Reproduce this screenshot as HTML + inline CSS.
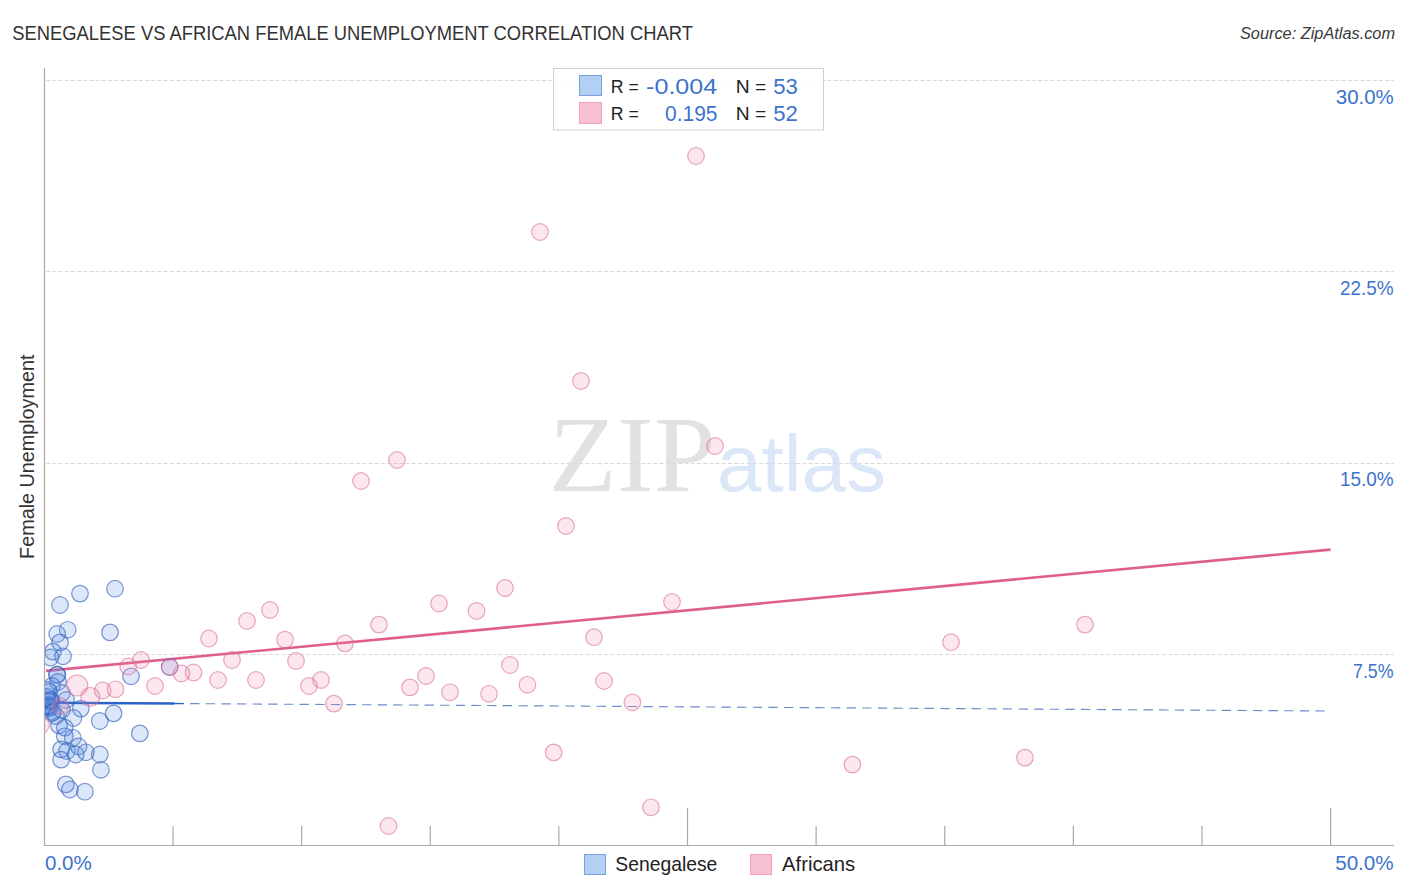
<!DOCTYPE html>
<html><head><meta charset="utf-8">
<style>
html,body{margin:0;padding:0;background:#fff;}
body{width:1406px;height:892px;overflow:hidden;position:relative;font-family:"Liberation Sans",sans-serif;}
svg{position:absolute;left:0;top:0;}
.grid{stroke:#d9d9d9;stroke-width:1;stroke-dasharray:4 2.2;}
.axis{stroke:#a9a9a9;stroke-width:1.2;}
.b{fill:rgba(80,140,230,0.2);stroke:rgba(55,95,185,0.65);stroke-width:1.2;}
.p{fill:rgba(240,135,175,0.2);stroke:rgba(215,110,150,0.6);stroke-width:1.2;}
text{font-family:"Liberation Sans",sans-serif;}
</style></head>
<body>
<svg width="1406" height="892" viewBox="0 0 1406 892">
<defs><clipPath id="plot"><rect x="45" y="68" width="1360" height="777"/></clipPath></defs>
<text transform="translate(12.28,40) scale(0.9192,1)" font-size="20" font-style="normal" fill="#333333">SENEGALESE VS AFRICAN FEMALE UNEMPLOYMENT CORRELATION CHART</text>

<text transform="translate(1239.98,39) scale(1.02,1)" font-size="16" font-style="italic" fill="#383838">Source: ZipAtlas.com</text>

<text transform="translate(548.85,491) scale(1.03,1)" style="font-family:'Liberation Serif',serif" font-size="108" fill="#e2e2e2">ZIP</text>
<text x="717" y="491" font-size="80" fill="#dbe7f8">atlas</text>
<line x1="46" y1="80.5" x2="1394" y2="80.5" class="grid"/>
<line x1="46" y1="271.5" x2="1394" y2="271.5" class="grid"/>
<line x1="46" y1="463.5" x2="1394" y2="463.5" class="grid"/>
<line x1="46" y1="654.5" x2="1394" y2="654.5" class="grid"/>

<line x1="44.5" y1="68" x2="44.5" y2="846" class="axis"/>
<line x1="44" y1="845.5" x2="1394" y2="845.5" class="axis"/>
<line x1="173.02" y1="826" x2="173.02" y2="845" class="axis"/>
<line x1="301.64" y1="826" x2="301.64" y2="845" class="axis"/>
<line x1="430.26" y1="826" x2="430.26" y2="845" class="axis"/>
<line x1="558.88" y1="826" x2="558.88" y2="845" class="axis"/>
<line x1="687.5" y1="808" x2="687.5" y2="845" class="axis"/>
<line x1="816.12" y1="826" x2="816.12" y2="845" class="axis"/>
<line x1="944.74" y1="826" x2="944.74" y2="845" class="axis"/>
<line x1="1073.36" y1="826" x2="1073.36" y2="845" class="axis"/>
<line x1="1201.98" y1="826" x2="1201.98" y2="845" class="axis"/>
<line x1="1330.6" y1="808" x2="1330.6" y2="845" class="axis"/>

<line x1="46" y1="670.9" x2="1330.5" y2="549.6" stroke="#df5f8b" stroke-width="2.6"/>
<line x1="46" y1="702.7" x2="174" y2="703.5" stroke="#2a63c9" stroke-width="2.4"/>
<line x1="174" y1="703.5" x2="184" y2="703.6" stroke="#2a63c9" stroke-width="1.3"/>
<line x1="190.1" y1="703.6" x2="1325.5" y2="711" stroke="#6b8ccb" stroke-width="1.15" stroke-dasharray="9.4 6.23"/>
<g clip-path="url(#plot)">
<circle class="b" cx="115" cy="588.7" r="8.3"/>
<circle class="b" cx="80" cy="593.6" r="8.3"/>
<circle class="b" cx="60" cy="605" r="8.3"/>
<circle class="b" cx="67.7" cy="629.8" r="8.3"/>
<circle class="b" cx="57.2" cy="634" r="8.3"/>
<circle class="b" cx="60" cy="642.4" r="8.3"/>
<circle class="b" cx="110" cy="632.4" r="8.3"/>
<circle class="b" cx="53" cy="651.6" r="8.3"/>
<circle class="b" cx="63" cy="656.3" r="8.3"/>
<circle class="b" cx="50.5" cy="657.5" r="8.3"/>
<circle class="b" cx="57.3" cy="674.5" r="8.3"/>
<circle class="b" cx="131" cy="676.3" r="8.3"/>
<circle class="b" cx="169.7" cy="667" r="8.3"/>
<circle class="b" cx="113.6" cy="713.4" r="8.3"/>
<circle class="b" cx="99.8" cy="721" r="8.3"/>
<circle class="b" cx="139.8" cy="733.4" r="8.3"/>
<circle class="b" cx="80.8" cy="708.6" r="8.3"/>
<circle class="b" cx="73.5" cy="718" r="8.3"/>
<circle class="b" cx="59" cy="725.4" r="8.3"/>
<circle class="b" cx="64.8" cy="727.6" r="8.3"/>
<circle class="b" cx="64.8" cy="736.3" r="8.3"/>
<circle class="b" cx="72.8" cy="737.8" r="8.3"/>
<circle class="b" cx="61.1" cy="749.4" r="8.3"/>
<circle class="b" cx="67" cy="751" r="8.3"/>
<circle class="b" cx="78.6" cy="746.5" r="8.3"/>
<circle class="b" cx="75.7" cy="754.5" r="8.3"/>
<circle class="b" cx="85.9" cy="752.3" r="8.3"/>
<circle class="b" cx="99.8" cy="754.5" r="8.3"/>
<circle class="b" cx="61.1" cy="759.6" r="8.3"/>
<circle class="b" cx="100.9" cy="769.8" r="8.3"/>
<circle class="b" cx="65.9" cy="784.4" r="8.3"/>
<circle class="b" cx="69.9" cy="789.5" r="8.3"/>
<circle class="b" cx="84.9" cy="791.7" r="8.3"/>
<circle class="b" cx="49" cy="706" r="8.3"/>
<circle class="b" cx="49" cy="706" r="8.3"/>
<circle class="b" cx="49.5" cy="707" r="8.3"/>
<circle class="b" cx="48.5" cy="705" r="8.3"/>
<circle class="b" cx="50" cy="708" r="8.3"/>
<circle class="b" cx="51" cy="700" r="8.3"/>
<circle class="b" cx="51" cy="700" r="8.3"/>
<circle class="b" cx="50" cy="701" r="8.3"/>
<circle class="b" cx="53" cy="712" r="8.3"/>
<circle class="b" cx="52" cy="713" r="8.3"/>
<circle class="b" cx="48" cy="690" r="8.3"/>
<circle class="b" cx="49" cy="692" r="8.3"/>
<circle class="b" cx="57" cy="675" r="8.3"/>
<circle class="b" cx="58" cy="682" r="8.3"/>
<circle class="b" cx="52" cy="686" r="8.3"/>
<circle class="b" cx="62" cy="693" r="8.3"/>
<circle class="b" cx="66" cy="700" r="8.3"/>
<circle class="b" cx="47" cy="697" r="8.3"/>
<circle class="b" cx="56" cy="716" r="8.3"/>
<circle class="b" cx="62" cy="710" r="8.3"/>
<circle class="p" cx="696" cy="156" r="8.3"/>
<circle class="p" cx="540" cy="232" r="8.3"/>
<circle class="p" cx="581" cy="381" r="8.3"/>
<circle class="p" cx="397" cy="460" r="8.3"/>
<circle class="p" cx="715" cy="446" r="8.3"/>
<circle class="p" cx="361" cy="481" r="8.3"/>
<circle class="p" cx="566" cy="526" r="8.3"/>
<circle class="p" cx="505" cy="588" r="8.3"/>
<circle class="p" cx="270" cy="610" r="8.3"/>
<circle class="p" cx="247" cy="621" r="8.3"/>
<circle class="p" cx="209" cy="638.5" r="8.3"/>
<circle class="p" cx="285" cy="639.6" r="8.3"/>
<circle class="p" cx="232" cy="660" r="8.3"/>
<circle class="p" cx="296" cy="661" r="8.3"/>
<circle class="p" cx="193.5" cy="672.5" r="8.3"/>
<circle class="p" cx="181.5" cy="673.5" r="8.3"/>
<circle class="p" cx="218" cy="680" r="8.3"/>
<circle class="p" cx="256" cy="680" r="8.3"/>
<circle class="p" cx="309" cy="686" r="8.3"/>
<circle class="p" cx="321" cy="680" r="8.3"/>
<circle class="p" cx="334" cy="703.6" r="8.3"/>
<circle class="p" cx="345" cy="643.4" r="8.3"/>
<circle class="p" cx="379" cy="624.6" r="8.3"/>
<circle class="p" cx="439" cy="603.5" r="8.3"/>
<circle class="p" cx="476.5" cy="611" r="8.3"/>
<circle class="p" cx="410" cy="687.4" r="8.3"/>
<circle class="p" cx="426" cy="676" r="8.3"/>
<circle class="p" cx="450" cy="692.3" r="8.3"/>
<circle class="p" cx="594" cy="637.2" r="8.3"/>
<circle class="p" cx="672" cy="602" r="8.3"/>
<circle class="p" cx="510" cy="665" r="8.3"/>
<circle class="p" cx="527.4" cy="684.8" r="8.3"/>
<circle class="p" cx="489" cy="693.8" r="8.3"/>
<circle class="p" cx="604" cy="681" r="8.3"/>
<circle class="p" cx="632.4" cy="702.3" r="8.3"/>
<circle class="p" cx="951" cy="642.2" r="8.3"/>
<circle class="p" cx="1085" cy="624.6" r="8.3"/>
<circle class="p" cx="852.4" cy="764.6" r="8.3"/>
<circle class="p" cx="1025" cy="757.6" r="8.3"/>
<circle class="p" cx="553.7" cy="752.4" r="8.3"/>
<circle class="p" cx="651" cy="807.3" r="8.3"/>
<circle class="p" cx="388.5" cy="826" r="8.3"/>
<circle class="p" cx="141" cy="660" r="8.3"/>
<circle class="p" cx="128.2" cy="666.5" r="8.3"/>
<circle class="p" cx="169.7" cy="667" r="8.3"/>
<circle class="p" cx="155" cy="686" r="8.3"/>
<circle class="p" cx="77.2" cy="685.5" r="10.5"/>
<circle class="p" cx="102.7" cy="690.5" r="8.3"/>
<circle class="p" cx="115.5" cy="689.3" r="8.3"/>
<circle class="p" cx="90.3" cy="697" r="9.5"/>
<circle class="p" cx="60" cy="706" r="8.3"/>
<circle class="p" cx="41" cy="725" r="8.3"/>
</g>
<text transform="translate(1335.78,104) scale(1.0218,1)" font-size="20" font-style="normal" fill="#3d73cc">30.0%</text>
<text transform="translate(1340.05,295) scale(0.9455,1)" font-size="20" font-style="normal" fill="#3d73cc">22.5%</text>
<text transform="translate(1340.01,486) scale(0.9463,1)" font-size="20" font-style="normal" fill="#3d73cc">15.0%</text>
<text transform="translate(1353.01,678) scale(0.8886,1)" font-size="20" font-style="normal" fill="#3d73cc">7.5%</text>
<text transform="translate(44.97,870) scale(1.0273,1)" font-size="20" font-style="normal" fill="#3d73cc">0.0%</text>
<text transform="translate(1335.17,870) scale(1.0327,1)" font-size="20" font-style="normal" fill="#3d73cc">50.0%</text>

<text transform="translate(34,558.88) rotate(-90) scale(0.9888,1)" font-size="20" fill="#333">Female Unemployment</text>
<!-- legend box -->
<rect x="553.5" y="68.5" width="270" height="61.5" fill="rgba(255,255,255,0.85)" stroke="#d0d0d0" stroke-width="1"/>
<rect x="579.5" y="75.5" width="22" height="20" fill="#b3cff3" stroke="#79a3e0" stroke-width="1"/>
<rect x="579.5" y="102.5" width="22" height="21" fill="#f9c2d4" stroke="#f0a0ba" stroke-width="1"/>
<text transform="translate(610.84,93) scale(0.9296,1)" font-size="19" font-style="normal" fill="#222">R =</text>
<text transform="translate(646.09,94) scale(1.1145,1)" font-size="22.5" font-style="normal" fill="#3d73cc">-0.004</text>
<text transform="translate(735.82,93) scale(1.013,1)" font-size="19" font-style="normal" fill="#222">N =</text>
<text transform="translate(773.32,94) scale(0.9826,1)" font-size="22.5" font-style="normal" fill="#3d73cc">53</text>
<text transform="translate(610.84,120) scale(0.9296,1)" font-size="19" font-style="normal" fill="#222">R =</text>
<text transform="translate(665.07,121) scale(0.9315,1)" font-size="22.5" font-style="normal" fill="#3d73cc">0.195</text>
<text transform="translate(735.82,120) scale(1.013,1)" font-size="19" font-style="normal" fill="#222">N =</text>
<text transform="translate(773.32,121) scale(0.9826,1)" font-size="22.5" font-style="normal" fill="#3d73cc">52</text>

<!-- bottom legend -->
<rect x="584.5" y="854.5" width="21" height="20" fill="#b3cff3" stroke="#79a3e0" stroke-width="1"/>
<text transform="translate(615.33,871) scale(0.9663,1)" font-size="20" font-style="normal" fill="#222">Senegalese</text>

<rect x="750.5" y="854.5" width="21" height="20" fill="#f9c2d4" stroke="#f0a0ba" stroke-width="1"/>
<text transform="translate(782.0,871) scale(1.0139,1)" font-size="20" font-style="normal" fill="#222">Africans</text>

</svg>
</body></html>
